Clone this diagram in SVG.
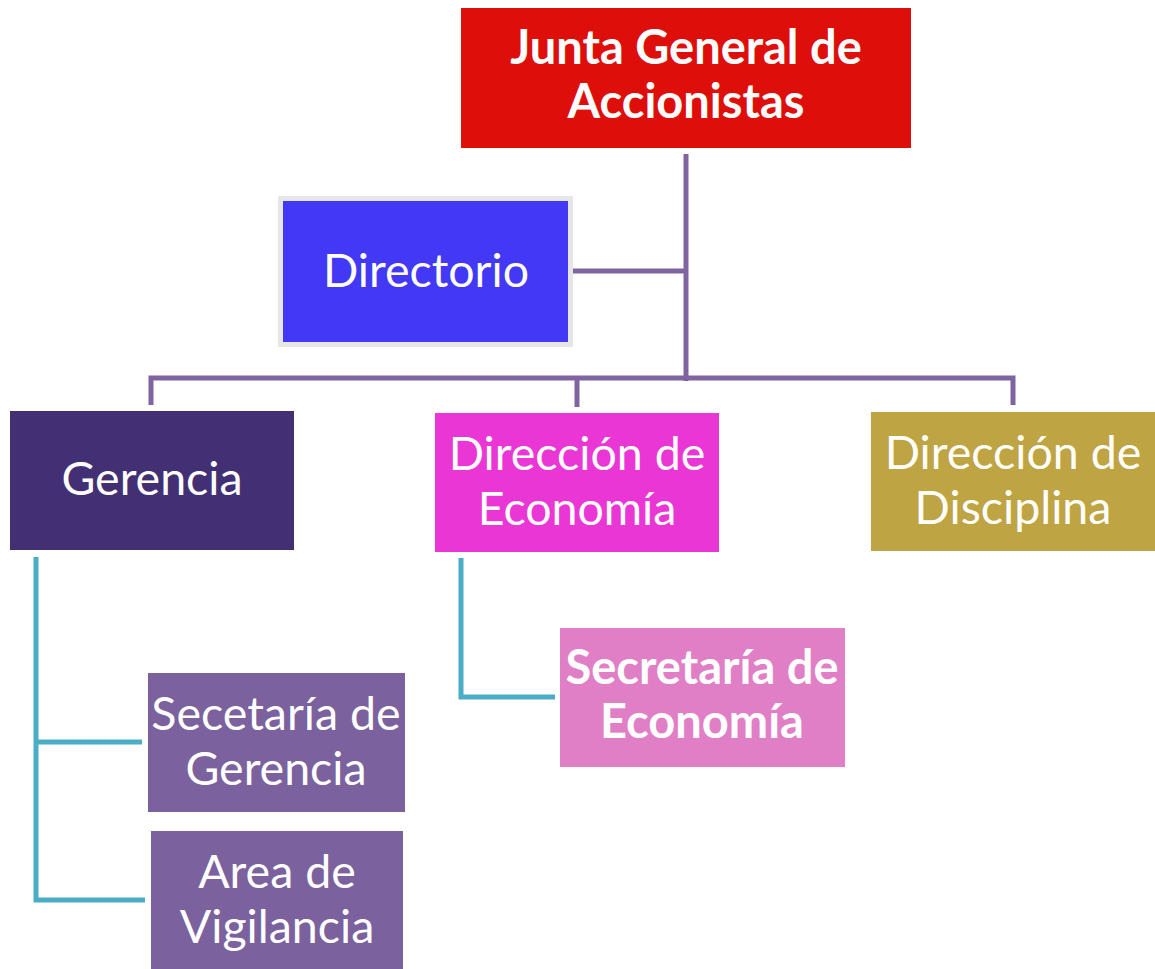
<svg xmlns="http://www.w3.org/2000/svg" width="1155" height="969" viewBox="0 0 1155 969">
<style>
.t{font-family:Lato,"Open Sans","Liberation Sans",sans-serif;font-size:46.5px;fill:#fff;text-anchor:middle}
.b{font-weight:bold;font-size:47px}
.p{fill:none;stroke:#8064A2;stroke-width:5}
.c{fill:none;stroke:#4BACC6;stroke-width:5}
</style>
<rect width="1155" height="969" fill="#fff"/>
<g id="connectors">
<path class="p" d="M686 154V381M573 271H686M151 405V378H1013V405M577 407V378"/>
<path class="c" d="M36 557V900H145M36 742H142"/>
<path class="c" d="M461 558V697H555"/>
</g>
<g id="junta">
<rect x="461" y="8" width="450" height="140" fill="#DE0E0A"/>
<text class="t b" x="686" y="64">Junta General de</text>
<text class="t b" x="686" y="118">Accionistas</text>
</g>
<g id="directorio">
<rect x="280.5" y="198.5" width="290" height="146" fill="#4338F5" stroke="#E6E6E6" stroke-width="5"/>
<text class="t" x="426" y="287">Directorio</text>
</g>
<g id="gerencia">
<rect x="10" y="411" width="284" height="139" fill="#432F73"/>
<text class="t" x="152" y="495">Gerencia</text>
</g>
<g id="dir-economia">
<rect x="435" y="413" width="284" height="139" fill="#EB36D6"/>
<text class="t" x="577" y="470">Dirección de</text>
<text class="t" x="577" y="525">Economía</text>
</g>
<g id="dir-disciplina">
<rect x="871" y="412" width="284" height="139" fill="#BFA443"/>
<text class="t" x="1013" y="469">Dirección de</text>
<text class="t" x="1013" y="524">Disciplina</text>
</g>
<g id="sec-gerencia">
<rect x="148" y="673" width="257" height="139" fill="#7B619E"/>
<text class="t" x="276" y="730">Secetaría de</text>
<text class="t" x="276" y="785">Gerencia</text>
</g>
<g id="area-vigilancia">
<rect x="151" y="831" width="252" height="138" fill="#7B619E"/>
<text class="t" x="277" y="888">Area de</text>
<text class="t" x="277" y="943">Vigilancia</text>
</g>
<g id="sec-economia">
<rect x="560" y="628" width="285" height="139" fill="#E07FC6"/>
<text class="t b" x="702" y="684">Secretaría de</text>
<text class="t b" x="702" y="738">Economía</text>
</g>
</svg>
